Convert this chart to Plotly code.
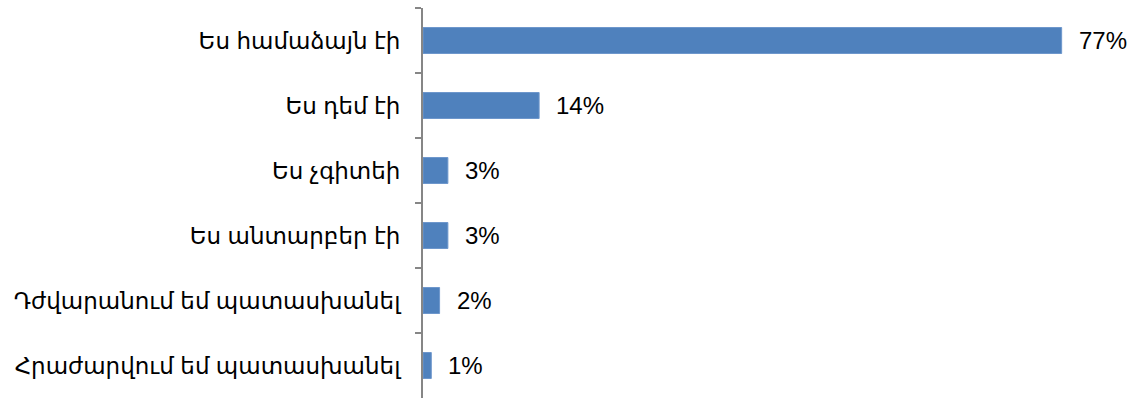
import plotly.graph_objects as go

categories = [
    "Ես համաձայն էի",
    "Ես դեմ էի",
    "Ես չգիտեի",
    "Ես անտարբեր էի",
    "Դժվարանում եմ պատասխանել",
    "Հրաժարվում եմ պատասխանել",
]
values = [77, 14, 3, 3, 2, 1]
value_labels = [f"{v}%" for v in values]

FONT = "Liberation Sans, Arial, DejaVu Sans, sans-serif"
BAR_COLOR = "#4F81BD"
AXIS_COLOR = "#868686"

fig = go.Figure(
    go.Bar(
        y=categories,
        x=values,
        orientation="h",
        width=0.4,
        marker=dict(color=BAR_COLOR, line=dict(color="#6E97CC", width=1)),
        hoverinfo="skip",
    )
)

# value labels just to the right of each bar
for cat, v, lab in zip(categories, values, value_labels):
    fig.add_annotation(
        x=v, y=cat, text=lab, showarrow=False,
        xanchor="left", xshift=15,
        font=dict(family=FONT, size=24, color="black"),
    )

fig.update_layout(
    width=1136, height=398,
    margin=dict(l=423, r=8, t=8, b=0),
    paper_bgcolor="white", plot_bgcolor="white",
    showlegend=False,
    xaxis=dict(range=[0, 85], visible=False, fixedrange=True),
    yaxis=dict(
        autorange="reversed",
        showline=True, linecolor=AXIS_COLOR, linewidth=2,
        ticks="outside", tickson="boundaries", ticklen=6,
        tickcolor=AXIS_COLOR, tickwidth=2,
        ticklabelstandoff=16,
        tickfont=dict(family=FONT, size=23, color="black"),
        showgrid=False, zeroline=False,
    ),
)

fig.write_html("out.html")
